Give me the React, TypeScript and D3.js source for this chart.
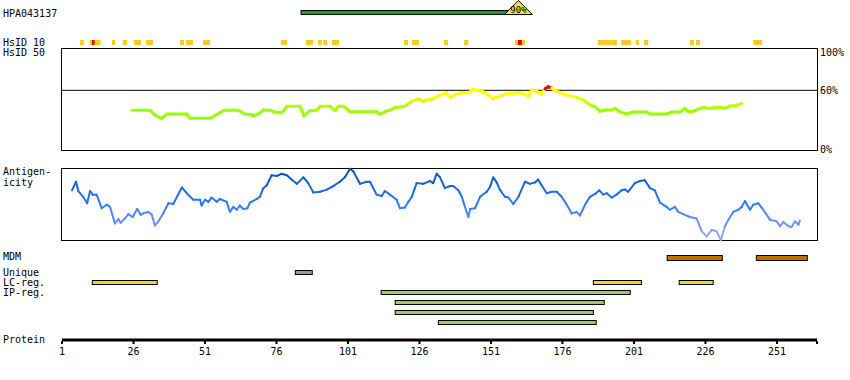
import React from "react";
import * as d3 from "d3";

const proteinLength = 265;
const antigenName = "HPA043137";
const antigenRange: [number, number] = [84.6, 157.6];
const antigenIdentity = "90%";

const tickValues = [1, 26, 51, 76, 101, 126, 151, 176, 201, 226, 251];

const hsid10Yellow: [number, number][] = [
  [7.3, 8.6], [10.6, 14.5], [18.5, 19.5], [22.3, 23.7], [26.2, 28.6], [30.4, 32.8],
  [42.3, 43.7], [44.4, 46.8], [50.3, 52.8], [77.6, 79.7], [86.3, 88.8], [90.5, 91.9],
  [92.3, 93.7], [95.4, 97.9], [120.6, 122], [123.4, 125.8], [134.6, 136], [141.6, 143],
  [159.4, 162.9], [188.4, 195.1], [196.5, 200], [201.7, 202.7], [204.5, 206],
  [220.6, 222], [222.7, 224.1], [242.7, 245.8],
];
const hsid10Red: [number, number][] = [[11.5, 12.4], [160.4, 161.8]];

const simResidues = [
  25.5, 31.8, 33.5, 35.9, 37.6, 44.6, 45.8, 52.7, 56.2, 58, 62.6, 65, 67.3, 67.9, 69.6,
  71.4, 73.7, 74.9, 77.2, 78.4, 79.6, 84.2, 84.8, 85.6, 87.7, 90.1, 91.2, 94.7, 96.5,
  97.6, 98.8, 100, 101.7, 111, 112.2, 113.9, 115.7, 117.4, 120.9, 123.3, 125.6, 127.3,
  128.5, 130.3, 132, 135.3, 136.7, 139, 140.8, 143.1, 144.8, 148.3, 151.8, 154.2, 157.1,
  161.2, 162.9, 164.1, 165.2, 167, 168.7, 169.9, 171, 172.2, 173.4, 177.5, 181, 183.3,
  185.6, 187.4, 189.1, 190.9, 193.2, 194.4, 196.1, 198.5, 200.8, 205.5, 206.6, 212.4,
  214.2, 217.1, 218.8, 220, 221.7, 224.1, 225.8, 226.4, 228.7, 231.1, 232.8, 234.6,
  236.9, 238.7,
];
const simValues = [
  40, 40, 35.2, 31.5, 36.2, 36.2, 31.8, 31.8, 37.5, 40, 40, 36.2, 35.5, 34.2, 36.2,
  40, 40, 38.5, 37.5, 39.2, 43.9, 43.9, 40.2, 34.2, 39.5, 40, 43.9, 43.9, 39.5,
  43.9, 43.9, 42.9, 38.5, 38.5, 35.8, 38.5, 40.2, 42.5, 43.9, 48.9, 51.3, 48.9,
  50.3, 50.9, 53.6, 57.6, 52.9, 56.3, 57.6, 57.6, 61, 58.6, 51.6, 54.3, 56.9,
  57.6, 56.3, 53.6, 60.3, 59.3, 55.9, 61.6, 63.6, 62.3, 59.6, 55.3, 52.9, 50.3,
  45.2, 43.6, 38.9, 40.2, 40.2, 41.9, 38.5, 36.2, 38.2, 38.2, 36.2, 36.2,
  38.2, 38.2, 41.9, 38.5, 38.9, 41.9, 42.9, 41.9, 42.2, 42.9, 41.9, 44.2,
  44.9, 47,
];

const antiResidues = [
  4.5, 5.9, 6.7, 8.4, 9.8, 10.8, 11.7, 13.1, 14.9, 16.6, 17.8, 19.5, 20.7, 21.5, 23,
  24.2, 25.7, 27.3, 28.5, 29.4, 31.2, 32.4, 33.5, 34.7, 36.4, 38.2, 39.9, 42.9, 44.6,
  46.9, 49.3, 49.8, 51, 52.2, 53.3, 55.1, 56.2, 58.6, 59.7, 60.9, 62.1, 63.2, 64.4,
  65.8, 66.7, 69.1, 70.2, 71.4, 72.6, 74.3, 76.1, 77.8, 79.6, 81.3, 83.1, 85.4, 87.1,
  88.9, 91.2, 93.6, 95.9, 98.2, 99.9, 101.7, 102.9, 105.2, 107.5, 108.7, 111, 112.8,
  113.9, 115.7, 118, 119.2, 120.9, 122.1, 123.3, 125, 127.3, 129.7, 130.8, 132, 133.2,
  134.9, 136.7, 137.8, 139.6, 140.8, 141.9, 143.1, 143.7, 145.4, 147.2, 149.5, 150.7,
  151.8, 153, 154.1, 155.9, 157.1, 158.8, 160.6, 162.9, 164.6, 166.4, 167.5, 168.7,
  170.5, 172.2, 174, 175.7, 177.5, 179.2, 181, 182.1, 183.9, 185.6, 187.4, 188.9,
  190.3, 191.5, 193.2, 194.9, 196.7, 197.9, 199, 201.3, 203.1, 204.8, 206.6, 208.3,
  210.1, 212.4, 213.6, 215.3, 216.5, 218.2, 220.6, 222.9, 224.7, 226.4, 228.2, 229.9,
  231.4, 232.8, 234, 235.7, 237.5, 238.7, 239.8, 241.6, 242.7, 244.5, 246.2, 248.6,
  250.9, 252.1, 253.2, 255, 256.1, 257.3, 258.5, 259,
];
const antiValues = [
  0.69, 0.81, 0.68, 0.6, 0.51, 0.68, 0.63, 0.63, 0.44, 0.49, 0.46, 0.23, 0.29, 0.24, 0.3,
  0.36, 0.32, 0.43, 0.35, 0.37, 0.39, 0.35, 0.2, 0.26, 0.37, 0.51, 0.5, 0.73, 0.65,
  0.56, 0.56, 0.48, 0.56, 0.53, 0.59, 0.53, 0.57, 0.53, 0.39, 0.46, 0.42, 0.48, 0.43,
  0.44, 0.52, 0.57, 0.6, 0.72, 0.76, 0.9, 0.89, 0.92, 0.9, 0.84, 0.78, 0.87, 0.79,
  0.66, 0.67, 0.7, 0.75, 0.81, 0.87, 0.99, 0.95, 0.78, 0.81, 0.81, 0.63, 0.61,
  0.68, 0.63, 0.56, 0.44, 0.45, 0.53, 0.6, 0.79, 0.78, 0.82, 0.79, 0.92, 0.87,
  0.72, 0.75, 0.75, 0.69, 0.6, 0.46, 0.32, 0.43, 0.44, 0.6, 0.67, 0.74,
  0.87, 0.8, 0.7, 0.6, 0.59, 0.5, 0.6, 0.81, 0.78, 0.8, 0.84, 0.76,
  0.65, 0.67, 0.67, 0.6, 0.49, 0.37, 0.39, 0.34, 0.49, 0.6, 0.64, 0.69,
  0.63, 0.65, 0.59, 0.63, 0.69, 0.7, 0.67, 0.79, 0.82, 0.83, 0.72, 0.69,
  0.52, 0.46, 0.42, 0.46, 0.39, 0.36, 0.32, 0.3, 0.12, 0.05, 0.14, 0.12,
  0.0, 0.19, 0.28, 0.39, 0.42, 0.46, 0.54, 0.42, 0.49, 0.51, 0.42, 0.28,
  0.26, 0.19, 0.25, 0.19, 0.18, 0.26, 0.21, 0.27,
];

const mdmRegions: [number, number][] = [[212.6, 231.9], [243.8, 261.6]];
const uniqueRegions: [number, number][] = [[82.6, 88.5]];
const lcRegions: [number, number][] = [[11.6, 34.3], [186.8, 203.6], [216.8, 228.7]];
const ipRegions: [number, number][] = [[112.6, 199.7], [117.5, 190.6], [117.5, 186.8], [132.6, 187.8]];

const FONT = "'DejaVu Sans Mono', monospace";

export default function App() {
  const x = d3.scaleLinear().domain([1, proteinLength]).range([62, 817]);
  const ySim = d3.scaleLinear().domain([0, 100]).range([150, 50.5]);
  const yAnti = d3.scaleLinear().domain([0, 1]).range([240, 168]);

  const simColor = (v: number) =>
    v > 61 ? "#ee0000" : d3.interpolateRgb("#99ff00", "#ffff00")(Math.max(0, Math.min(1, (v - 40) / 15)));
  const antiColor = d3
    .scaleLinear<string>()
    .domain([0, 0.5, 1])
    .range(["#aaa6ff", "#2d7bff", "#0050b0"])
    .clamp(true);

  const simSegs = simResidues.slice(1).map((r, i) => ({
    x1: x(simResidues[i]), y1: ySim(simValues[i]), x2: x(r), y2: ySim(simValues[i + 1]),
    c: simColor((simValues[i] + simValues[i + 1]) / 2),
  }));
  const antiSegs = antiResidues.slice(1).map((r, i) => ({
    x1: x(antiResidues[i]), y1: yAnti(antiValues[i]), x2: x(r), y2: yAnti(antiValues[i + 1]),
    c: antiColor((antiValues[i] + antiValues[i + 1]) / 2),
  }));

  const bar = (reg: [number, number], y: number, h: number, fill: string, key: string) => (
    <rect key={key} x={x(reg[0])} y={y} width={x(reg[1]) - x(reg[0])} height={h} fill={fill} stroke="#000" strokeWidth={1} />
  );

  const triCx = x(antigenRange[1]) + 8.5;
  const x0 = x(1);
  const x1 = x(proteinLength);

  return (
    <svg width={850} height={380} style={{ position: "absolute", left: 0, top: 0, background: "#fff" }} fontFamily={FONT} fontSize={10}>
      <text x={3} y={16.5}>{antigenName}</text>
      <rect x={x(antigenRange[0])} y={10.5} width={x(antigenRange[1]) - x(antigenRange[0])} height={4} fill="#1f9e1f" stroke="#000" strokeWidth={1} />
      <path d={`M${triCx},0.5 L${triCx + 14},14.5 L${triCx - 14},14.5 Z`} fill="#f2e04a" stroke="#000" strokeWidth={1} />
      <text x={triCx} y={13} textAnchor="middle" fontSize={9}>{antigenIdentity}</text>

      <text x={3} y={45.5}>HsID 10</text>
      <text x={3} y={55.5}>HsID 50</text>
      {hsid10Yellow.map((r, i) => (
        <rect key={"y" + i} x={x(r[0])} y={40} width={x(r[1]) - x(r[0])} height={5} fill="#fdc922" />
      ))}
      {hsid10Red.map((r, i) => (
        <rect key={"r" + i} x={x(r[0])} y={40} width={x(r[1]) - x(r[0])} height={5} fill="#e80000" />
      ))}

      <rect x={x0 - 0.5} y={48.5} width={x1 - x0 + 1} height={102} fill="none" stroke="#000" strokeWidth={1} />
      <line x1={x0} x2={x1} y1={ySim(60)} y2={ySim(60)} stroke="#000" strokeWidth={1} />
      {simSegs.map((s, i) => (
        <line key={"s" + i} x1={s.x1} y1={s.y1} x2={s.x2} y2={s.y2} stroke={s.c} strokeWidth={3} strokeLinecap="round" />
      ))}
      <text x={820} y={55.5}>100%</text>
      <text x={820} y={ySim(60) + 3.5}>60%</text>
      <text x={820} y={153}>0%</text>

      <text x={3} y={175}>Antigen-</text>
      <text x={3} y={185.5}>icity</text>
      <rect x={x0 - 0.5} y={168.5} width={x1 - x0 + 1} height={72} fill="none" stroke="#000" strokeWidth={1} />
      {antiSegs.map((s, i) => (
        <line key={"a" + i} x1={s.x1} y1={s.y1} x2={s.x2} y2={s.y2} stroke={s.c} strokeWidth={2} strokeLinecap="round" />
      ))}

      <text x={3} y={260}>MDM</text>
      <text x={3} y={276}>Unique</text>
      <text x={3} y={286}>LC-reg.</text>
      <text x={3} y={296}>IP-reg.</text>
      <text x={3} y={343}>Protein</text>

      {mdmRegions.map((r, i) => bar(r, 255.5, 5, "#c07000", "m" + i))}
      {uniqueRegions.map((r, i) => bar(r, 270.5, 4, "#999999", "u" + i))}
      {lcRegions.map((r, i) => bar(r, 280.5, 4, "#ead83a", "l" + i))}
      {ipRegions.map((r, i) => bar(r, 290.5 + i * 10, 4, "#a3c963", "p" + i))}

      <rect x={x0} y={338.5} width={x1 - x0} height={3} fill="#000" />
      {[...tickValues, proteinLength].map((t) => (
        <rect key={"t" + t} x={x(t) - 1} y={341} width={2} height={3} fill="#000" />
      ))}
      {tickValues.map((t) => (
        <text key={"tl" + t} x={x(t)} y={354.5} textAnchor="middle">{t}</text>
      ))}
    </svg>
  );
}
